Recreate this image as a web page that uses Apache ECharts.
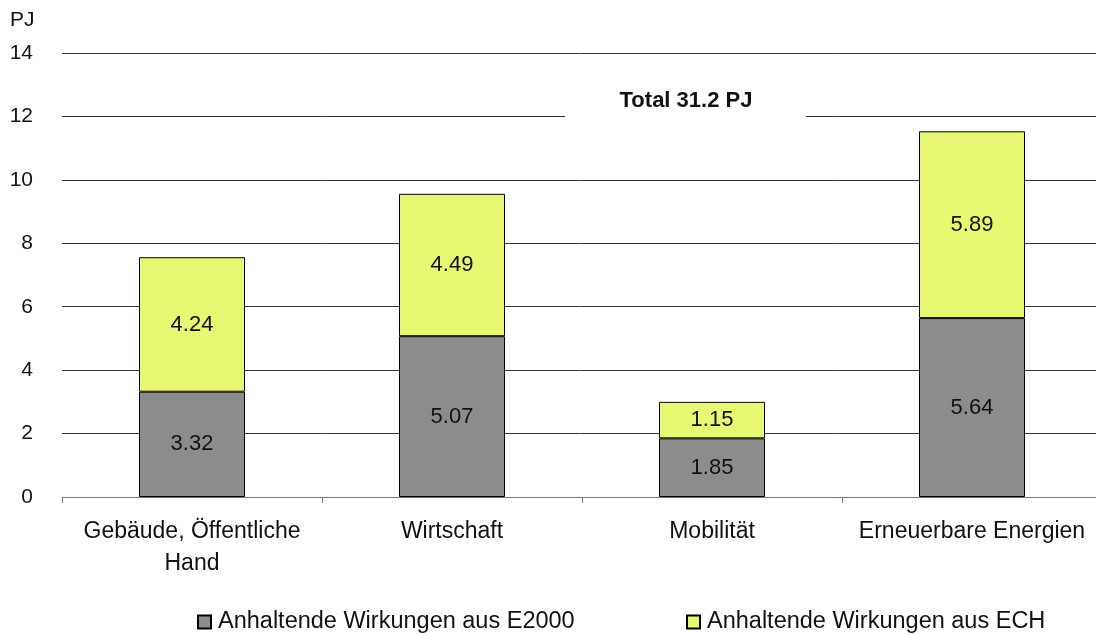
<!DOCTYPE html>
<html>
<head>
<meta charset="utf-8">
<script src="https://cdn.jsdelivr.net/npm/echarts@6/dist/echarts.min.js"></script>
<style>
html,body{margin:0;padding:0;background:#fff;}
#c{width:1096px;height:635px;}
</style>
</head>
<body>
<div id="c"></div>
<script>
const categories = ['Gebäude, Öffentliche\nHand', 'Wirtschaft', 'Mobilität', 'Erneuerbare Energien'];
const seriesNames = ['Anhaltende Wirkungen aus E2000', 'Anhaltende Wirkungen aus ECH'];
const e2000 = [3.32, 5.07, 1.85, 5.64];
const ech = [4.24, 4.49, 1.15, 5.89];
const yTicks = [0, 2, 4, 6, 8, 10, 12, 14];
const totalLabel = 'Total 31.2 PJ';
const unitLabel = 'PJ';

const FONT = '"Liberation Sans", Arial, sans-serif';
const chart = echarts.init(document.getElementById('c'), null, {renderer: 'canvas'});

const labelCfg = {
  show: true, position: 'inside', fontSize: 22, color: '#111', fontFamily: FONT,
  formatter: p => p.value.toFixed(2)
};
const legendText = {fontSize: 23.5, color: '#111', fontFamily: FONT, padding: [0, 0, 0, 2]};

chart.setOption({
  animation: false,
  backgroundColor: '#fff',
  textStyle: {fontFamily: FONT},
  grid: {left: 62, width: 1040, top: 53, bottom: 138, containLabel: false, outerBoundsMode: 'none'},
  legend: [
    {data: [seriesNames[0]], left: 197, top: 610, padding: 0, icon: 'rect',
     itemWidth: 13, itemHeight: 13, itemGap: 0, textStyle: legendText},
    {data: [seriesNames[1]], left: 686, top: 610, padding: 0, icon: 'rect',
     itemWidth: 13, itemHeight: 13, itemGap: 0, textStyle: legendText}
  ],
  xAxis: {
    type: 'category', data: categories,
    axisLine: {show: true, lineStyle: {color: '#777', width: 1}},
    axisTick: {show: true, length: 6, lineStyle: {color: '#777'}},
    axisLabel: {fontSize: 23, color: '#111', margin: 19, lineHeight: 32, interval: 0, fontFamily: FONT}
  },
  yAxis: {
    type: 'value', min: yTicks[0], max: yTicks[yTicks.length - 1], interval: 2,
    axisLine: {show: false}, axisTick: {show: false},
    axisLabel: {fontSize: 21, color: '#111', margin: 29, fontFamily: FONT},
    splitLine: {show: true, lineStyle: {color: '#333', width: 1}}
  },
  series: [
    {name: seriesNames[0], type: 'bar', stack: 'total', data: e2000, barWidth: 106,
     itemStyle: {color: '#8c8c8c', borderColor: '#000', borderWidth: 1}, label: labelCfg},
    {name: seriesNames[1], type: 'bar', stack: 'total', data: ech, barWidth: 106,
     itemStyle: {color: '#e8f873', borderColor: '#000', borderWidth: 1}, label: labelCfg}
  ],
  graphic: [
    {type: 'text', left: 10, top: 10, z: 10,
     style: {text: unitLabel, fontSize: 21, fill: '#111', fontFamily: FONT}},
    {type: 'rect', shape: {x: 565, y: 84, width: 241, height: 42}, z: 10,
     style: {fill: '#fff'}},
    {type: 'text', x: 686, y: 101, z: 11,
     style: {text: totalLabel, fontSize: 22, fontWeight: 'bold', fill: '#111', fontFamily: FONT,
             align: 'center', verticalAlign: 'middle'}}
  ]
});
</script>
</body>
</html>
